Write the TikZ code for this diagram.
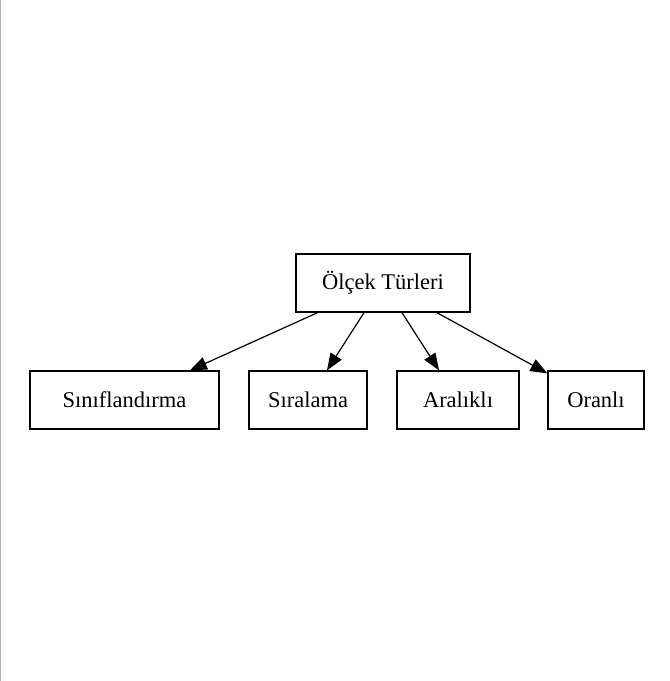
\documentclass[tikz,border=0pt]{standalone}
\usepackage{fontspec}
\setmainfont{Liberation Serif}
\usetikzlibrary{arrows.meta}
\tikzset{%
  olcekarrow/.style = {-{Triangle[length=17pt,width=13pt]},line width=1.2pt},
  kutu/.style = {rectangle,draw,solid,line width=1.2pt,inner sep=0pt,
        minimum height=58pt,font=\fontsize{22.5}{26}\selectfont}
}
\begin{document}
\begin{tikzpicture}[x=1pt,y=-1pt]
    \useasboundingbox (0,0) rectangle (670,681);
    \draw[gray!60,line width=1pt] (0.5,0) -- (0.5,681);
    \node[kutu,minimum width=174pt] (turler) at (383,283) {Ölçek Türleri};
    \node[kutu,minimum width=189pt] (sinif) at (124.5,400) {Sınıflandırma};
    \node[kutu,minimum width=118pt] (sira) at (308,400) {Sıralama};
    \node[kutu,minimum width=122pt] (aralik) at (458,400) {Aralıklı};
    \node[kutu,minimum width=96pt] (oran) at (596,400) {Oranlı};
    \draw[olcekarrow] (turler) -- (sinif);
    \draw[olcekarrow] (turler) -- (sira);
    \draw[olcekarrow] (turler) -- (aralik);
    \draw[olcekarrow] (turler) -- (oran);
\end{tikzpicture}
\end{document}
